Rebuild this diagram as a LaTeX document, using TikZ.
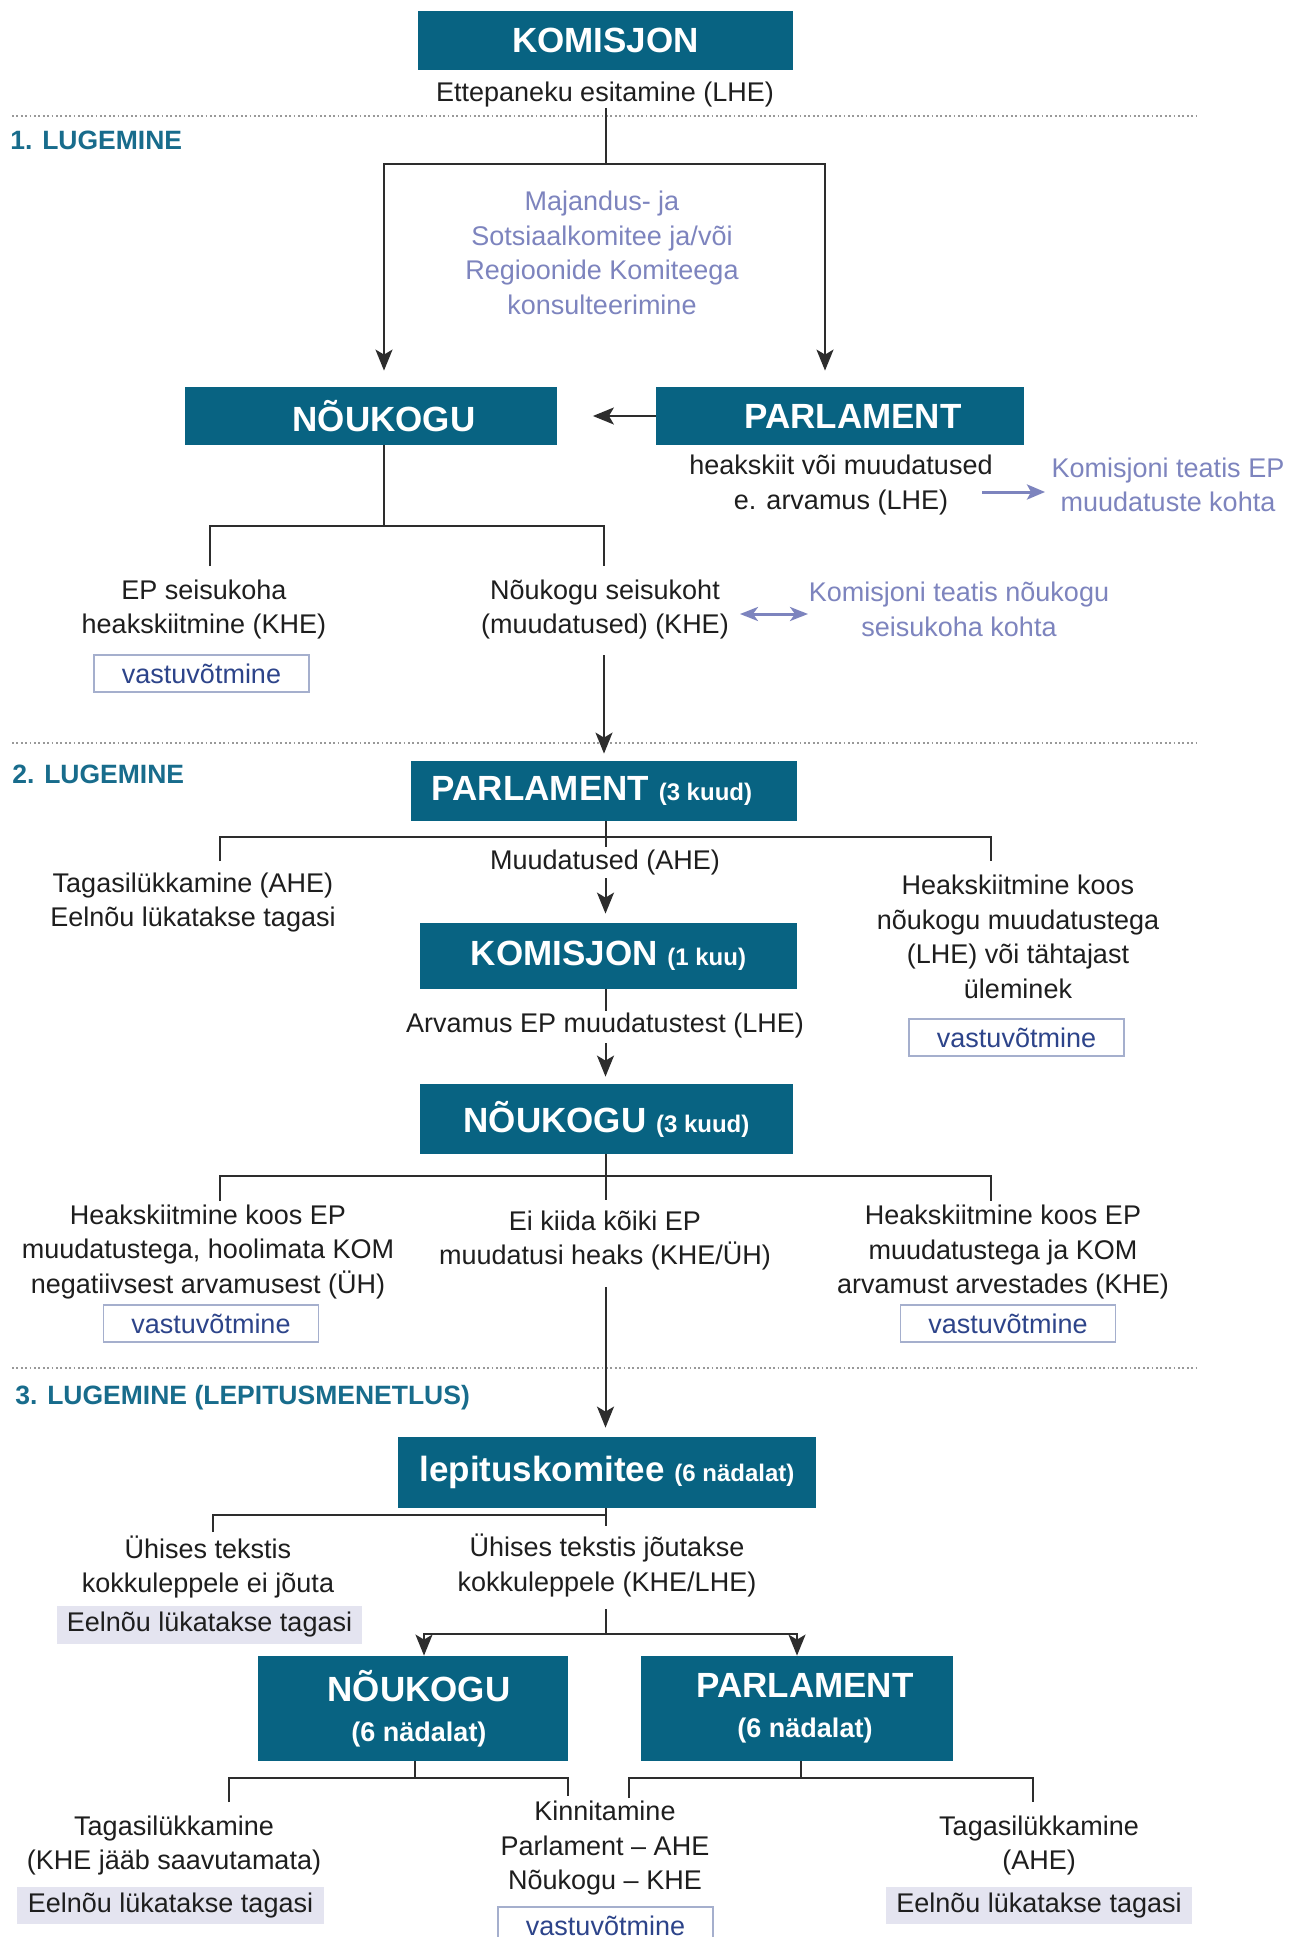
\documentclass[tikz,border=0pt]{standalone}
\usepackage{fontspec}
\setmainfont{Liberation Sans}
\usetikzlibrary{arrows.meta}
\definecolor{teal0}{RGB}{8,99,130}
\definecolor{secc}{RGB}{24,108,140}
\definecolor{lavc}{RGB}{125,132,190}
\definecolor{vtext}{RGB}{45,68,138}
\definecolor{vborder}{RGB}{165,175,205}
\definecolor{rfill}{RGB}{228,228,240}
\definecolor{linec}{RGB}{45,45,45}
\definecolor{txtc}{RGB}{30,30,30}
\newcommand\bodyfs{\fontsize{13.5}{17.3}\selectfont}
\newcommand\subfs{\fontsize{12}{14}\selectfont}
\begin{document}
\begin{tikzpicture}[x=0.5pt,y=-0.5pt,
 tbox/.style={fill=teal0,text=white,inner sep=0pt,align=center,font=\bfseries\fontsize{17.5}{20}\selectfont},
 txt/.style={inner sep=0pt,align=center,font=\bodyfs,text=txtc},
 lav/.style={txt,text=lavc},
 vbox/.style={draw=vborder,line width=0.8pt,fill=white,text=vtext,font=\bodyfs,inner sep=0pt,minimum width=107.5pt,minimum height=18.5pt},
 rbox/.style={fill=rfill,text=txtc,font=\bodyfs,inner sep=0pt,minimum width=152.5pt,minimum height=19pt},
 sec/.style={anchor=west,inner sep=0pt,text=secc,font=\bfseries\fontsize{13.25}{16}\selectfont},
 conn/.style={draw=linec,line width=1pt},
 arr/.style={conn,-{Stealth[length=10.5pt,width=8.5pt,inset=2.5pt]}},
 larr/.style={draw=lavc,line width=1.5pt,-{Stealth[length=9pt,width=7.5pt,inset=2pt]}},
 ldarr/.style={draw=lavc,line width=1.5pt,{Stealth[length=9pt,width=7pt,inset=2.5pt]}-{Stealth[length=9pt,width=7pt,inset=2.5pt]}},
 dots/.style={draw=black!40,line width=0.9pt,dash pattern=on 0.9pt off 1.3pt}
]
\clip (0,0) rectangle (1300,1937);
\fill[white] (0,0) rectangle (1300,1937);

% ---------- nodes ----------
\node[tbox,minimum width=187.5pt,minimum height=29.5pt] (k1) at (605.5,40.5) {KOMISJON};
\node[txt] (ett) at (605,95) {Ettepaneku esitamine (LHE)};
\node[sec] (s1) at (10,140) {1. LUGEMINE};
\node[lav] (maj) at (602,253) {Majandus- ja\\Sotsiaalkomitee ja/või\\Regioonide Komiteega\\konsulteerimine};
\node[tbox,minimum width=186pt,minimum height=29pt] (n1) at (370.5,416) {\hspace*{13.5pt}NÕUKOGU};
\node[tbox,minimum width=184pt,minimum height=29pt] (p1) at (840,416) {\hspace*{13pt}PARLAMENT};
\node[txt] (heak) at (841,485) {heakskiit või muudatused\\e. arvamus (LHE)};
\node[lav] (ktep) at (1168,485) {Komisjoni teatis EP\\muudatuste kohta};
\node[txt] (eps) at (204,609.5) {EP seisukoha\\heakskiitmine (KHE)};
\node[vbox] (vv1) at (201.5,673.5) {vastuvõtmine};
\node[txt] (nss) at (605,609.5) {Nõukogu seisukoht\\(muudatused) (KHE)};
\node[lav] (ktn) at (959,609.5) {Komisjoni teatis nõukogu\\seisukoha kohta};

\node[sec] (s2) at (12,774) {2. LUGEMINE};
\node[tbox,minimum width=193pt,minimum height=30pt] (p2) at (604,791) {PARLAMENT {\subfs(3 kuud)}\hspace*{12pt}};
\node[txt] (tag2) at (193,902.5) {Tagasilükkamine (AHE)\\Eelnõu lükatakse tagasi};
\node[txt] (muu) at (605,863) {Muudatused (AHE)};
\node[txt] (heak2) at (1018,937) {Heakskiitmine koos\\nõukogu muudatustega\\(LHE) või tähtajast\\üleminek};
\node[vbox] (vv2) at (1016.5,1037.5) {vastuvõtmine};
\node[tbox,minimum width=188.5pt,minimum height=33pt] (k2) at (608.5,956) {KOMISJON {\subfs(1 kuu)}};
\node[txt] (arv) at (605,1026) {Arvamus EP muudatustest (LHE)};
\node[tbox,minimum width=186.5pt,minimum height=35pt] (n2) at (606.5,1119) {NÕUKOGU {\subfs(3 kuud)}};
\node[txt] (hkL) at (208,1252) {Heakskiitmine koos EP\\muudatustega, hoolimata KOM\\negatiivsest arvamusest (ÜH)};
\node[vbox] (vv3) at (211,1323.5) {vastuvõtmine};
\node[txt] (eik) at (605,1240.5) {Ei kiida kõiki EP\\muudatusi heaks (KHE/ÜH)};
\node[txt] (hkR) at (1003,1252) {Heakskiitmine koos EP\\muudatustega ja KOM\\arvamust arvestades (KHE)};
\node[vbox] (vv4) at (1008,1323.5) {vastuvõtmine};

\node[sec] (s3) at (15,1398) {3. LUGEMINE (LEPITUSMENETLUS)};
\node[tbox,minimum width=209pt,minimum height=35.5pt] (lep) at (607,1472.5) {lepituskomitee {\subfs(6 nädalat)}};
\node[txt] (uh1) at (208,1567) {Ühises tekstis\\kokkuleppele ei jõuta};
\node[rbox] (rb1) at (209.5,1625) {Eelnõu lükatakse tagasi};
\node[txt] (uh2) at (607,1565.5) {Ühises tekstis jõutakse\\kokkuleppele (KHE/LHE)};
\node[tbox,minimum width=155pt,minimum height=52.5pt] (n3) at (413,1708.5) {\hspace*{6pt}NÕUKOGU\\\hspace*{6pt}{\fontsize{13.5}{16}\selectfont(6 nädalat)}};
\node[tbox,minimum width=156pt,minimum height=52.5pt] (p3) at (797,1708.5) {\hspace*{8pt}PARLAMENT\\\hspace*{8pt}{\fontsize{13.5}{16}\selectfont(6 nädalat)}};
\node[txt] (tag4) at (174,1845.5) {Tagasilükkamine\\(KHE jääb saavutamata)};
\node[rbox,minimum width=153.5pt,minimum height=18.5pt] (rb2) at (170.5,1905.5) {Eelnõu lükatakse tagasi};
\node[txt] (kin) at (605,1848) {Kinnitamine\\Parlament – AHE\\Nõukogu – KHE};
\node[vbox] (vv5) at (605.5,1925.5) {vastuvõtmine};
\node[txt] (tag5) at (1039,1845.5) {Tagasilükkamine\\(AHE)};
\node[rbox,minimum width=153pt,minimum height=18.5pt] (rb3) at (1039,1905.5) {Eelnõu lükatakse tagasi};

% ---------- dotted separators ----------
\draw[dots] (12,116) -- (1196,116);
\draw[dots] (12,743) -- (1196,743);
\draw[dots] (12,1368) -- (1196,1368);

% ---------- connectors ----------
\coordinate (j1) at (606,164);
\draw[conn] (ett.south -| j1) -- (j1);
\draw[arr] (j1) -| ([xshift=6.75pt,yshift=8pt]n1.north);
\draw[arr] (j1) -| ([xshift=-7.5pt,yshift=8pt]p1.north);
\draw[arr] (p1.west) -- ([xshift=18pt]n1.east);
\coordinate (la1) at (982,492);
\coordinate (la2) at (1045,492);
\draw[larr] (la1) -- (la2);

\coordinate (b1) at (384,526);
\coordinate (b1l) at (210,566);
\coordinate (b1r) at (604,566);
\draw[conn] ([xshift=6.75pt]n1.south) -- (b1);
\draw[conn] (b1l) |- (b1) -| (b1r);
\coordinate (da1) at (740,614);
\coordinate (da2) at (808,614);
\draw[ldarr] (da1) -- (da2);
\draw[arr] (p2.north |- 0,655) -- ([yshift=3.5pt]p2.north);

\draw[conn] (p2.south -| 605.5,0) -- (605.5,847);
\coordinate (b2l) at (220,861);
\coordinate (b2r) at (991,861);
\draw[conn] (b2l) |- (605.5,837) -| (b2r);
\draw[arr,shorten >=4.5pt] (605.5,878) -- (k2.north -| 605.5,0);
\draw[conn] (k2.south -| 605.5,0) -- (605.5,1011);
\draw[arr,shorten >=3.5pt] (605.5,1043) -- (n2.north -| 605.5,0);
\draw[conn] (n2.south -| 605.5,0) -- (605.5,1200);
\coordinate (b3l) at (220,1201);
\coordinate (b3r) at (991,1201);
\draw[conn] (b3l) |- (605.5,1176) -| (b3r);
\draw[arr,shorten >=4.5pt] (605.5,1287) -- (lep.north -| 605.5,0);

\draw[conn] (lep.south -| 605.5,0) -- (605.5,1526);
\coordinate (b4l) at (213,1532);
\draw[conn] (b4l) |- (605.5,1515);
\coordinate (j3) at (605.5,1634);
\draw[conn] (605.5,1609) -- (j3);
\draw[arr] (j3) -| (n3.north -| 424,0);
\draw[arr] (j3) -| (p3.north);

\coordinate (b5l) at (229,1802);
\coordinate (b5r) at (568,1796);
\draw[conn] (n3.south -| 415,0) -- (415,1778);
\draw[conn] (b5l) |- (415,1778) -| (b5r);
\coordinate (b6l) at (629,1798);
\coordinate (b6r) at (1033,1802);
\draw[conn] (p3.south -| 801,0) -- (801,1778);
\draw[conn] (b6l) |- (801,1778) -| (b6r);
\end{tikzpicture}
\end{document}
